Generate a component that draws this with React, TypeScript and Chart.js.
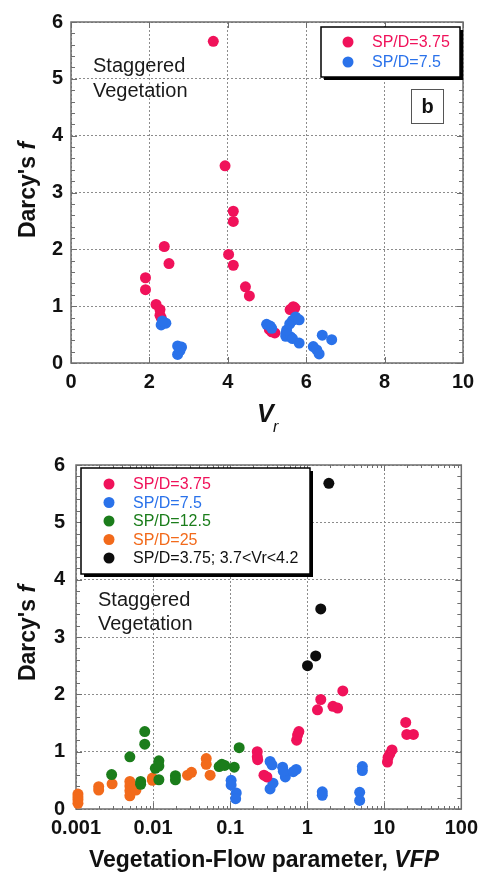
import React, { useEffect, useRef } from "react";
import { Chart, registerables } from "chart.js";

Chart.register(...registerables);

const FONT = "'Liberation Sans', Arial, Helvetica, sans-serif";
const PINK = "#f0125a";
const BLUE = "#2a72ea";
const GREEN = "#1b7d1b";
const ORANGE = "#f26a1b";
const BLACK = "#0d0d0d";
const FRAME = "#6e6e6e";
const GRID = "#8c8c8c";

// ---------- Panel b (top): Darcy's f vs Vr ----------
const vrTicks = [0, 2, 4, 6, 8, 10];
const fTicks = [0, 1, 2, 3, 4, 5, 6];

const vr375 = [3.63, 3.93, 4.14, 4.14, 4.02, 4.14, 4.45, 4.55, 1.9, 1.9, 2.38, 2.5, 2.17, 2.27, 2.27, 2.3, 5.06, 5.12, 5.2, 5.59, 5.67, 5.71];
const fTop375 = [5.66, 3.47, 2.67, 2.49, 1.91, 1.72, 1.34, 1.18, 1.5, 1.29, 2.05, 1.75, 1.03, 0.94, 0.84, 0.8, 0.59, 0.55, 0.53, 0.94, 0.99, 0.97];

const vr75 = [2.3, 2.35, 2.42, 2.33, 2.72, 2.72, 2.82, 2.78, 4.99, 5.08, 5.12, 5.48, 5.48, 5.6, 5.65, 5.5, 5.58, 5.65, 5.73, 5.82, 5.82, 6.18, 6.27, 6.33, 6.41, 6.65];
const fTop75 = [0.67, 0.72, 0.7, 0.74, 0.3, 0.15, 0.28, 0.22, 0.68, 0.65, 0.61, 0.52, 0.47, 0.46, 0.43, 0.58, 0.69, 0.75, 0.81, 0.76, 0.35, 0.29, 0.23, 0.16, 0.49, 0.41];

// ---------- Bottom panel: Darcy's f vs VFP ----------
const vfpTicks = [0.001, 0.01, 0.1, 1, 10, 100];
const vfpTickLabels = ["0.001", "0.01", "0.1", "1", "10", "100"];

const vfp375 = [0.225, 0.225, 0.228, 0.275, 0.3, 0.73, 0.75, 0.78, 1.36, 1.5, 2.16, 2.48, 2.9, 11.0, 11.2, 11.8, 12.6, 19.0, 19.6, 23.9];
const f375 = [1.0, 0.91, 0.86, 0.59, 0.56, 1.2, 1.29, 1.35, 1.73, 1.91, 1.79, 1.76, 2.06, 0.82, 0.9, 0.96, 1.03, 1.51, 1.3, 1.3];

const vfp75 = [0.103, 0.103, 0.12, 0.118, 0.33, 0.35, 0.33, 0.36, 0.48, 0.52, 0.49, 0.66, 0.72, 1.57, 1.57, 4.8, 4.8, 5.2, 5.2];
const f75 = [0.5, 0.42, 0.28, 0.18, 0.83, 0.77, 0.35, 0.45, 0.73, 0.56, 0.66, 0.65, 0.69, 0.3, 0.24, 0.29, 0.15, 0.74, 0.67];

const vfp125 = [0.0029, 0.005, 0.0078, 0.0078, 0.0069, 0.0069, 0.0107, 0.0119, 0.0119, 0.0119, 0.0195, 0.0195, 0.072, 0.078, 0.085, 0.113, 0.131];
const f125 = [0.6, 0.91, 1.35, 1.13, 0.48, 0.43, 0.71, 0.84, 0.75, 0.51, 0.58, 0.51, 0.74, 0.78, 0.76, 0.73, 1.07];

const vfp25 = [0.00106, 0.00106, 0.00106, 0.00106, 0.00197, 0.00197, 0.00294, 0.005, 0.005, 0.005, 0.005, 0.0057, 0.006, 0.0098, 0.0098, 0.028, 0.0315, 0.049, 0.049, 0.055];
const f25 = [0.26, 0.21, 0.16, 0.1, 0.39, 0.33, 0.44, 0.48, 0.4, 0.32, 0.23, 0.38, 0.33, 0.54, 0.5, 0.59, 0.64, 0.88, 0.78, 0.59];

const vfpBlack = [1.01, 1.29, 1.5, 1.91];
const fBlack = [2.5, 2.67, 3.49, 5.68];

const pts = (xs: number[], ys: number[]) => xs.map((x, i) => ({ x, y: ys[i] }));

function dataset(label: string, xs: number[], ys: number[], color: string, order: number, textColor?: string) {
  return {
    label,
    data: pts(xs, ys),
    backgroundColor: color,
    borderColor: color,
    borderWidth: 0,
    pointRadius: 5.5,
    pointHoverRadius: 5.5,
    order,
    clip: false as any,
    textColor: textColor || color,
  } as any;
}

function frameAndTicks(chart: any, xMajor: number[], xMinor: number[]) {
  const { ctx, chartArea: a } = chart;
  const xs = chart.scales.x;
  const ys = chart.scales.y;
  ctx.save();
  ctx.strokeStyle = FRAME;
  ctx.lineWidth = 1;
  ctx.beginPath();
  const seg = (x1: number, y1: number, x2: number, y2: number) => {
    ctx.moveTo(x1, y1);
    ctx.lineTo(x2, y2);
  };
  const n = Math.round((ys.max - ys.min) / 0.2);
  for (let k = 0; k <= n; k++) {
    const v = ys.min + k * 0.2;
    const p = Math.round(ys.getPixelForValue(v)) + 0.5;
    const len = k % 5 === 0 ? 6 : 4;
    seg(a.left, p, a.left + len, p);
    seg(a.right, p, a.right - len, p);
  }
  xMajor.forEach((v) => {
    const p = Math.round(xs.getPixelForValue(v)) + 0.5;
    seg(p, a.bottom, p, a.bottom - 6);
    seg(p, a.top, p, a.top + 6);
  });
  xMinor.forEach((v) => {
    const p = Math.round(xs.getPixelForValue(v)) + 0.5;
    seg(p, a.bottom, p, a.bottom - 3);
    seg(p, a.top, p, a.top + 3);
  });
  ctx.stroke();
  ctx.lineWidth = 1.5;
  ctx.strokeRect(a.left, a.top, a.right - a.left, a.bottom - a.top);
  ctx.restore();
}

function drawLegend(chart: any, x: number, y: number, w: number, h: number, mdx: number, tdx: number, row0: number, step: number) {
  const ctx = chart.ctx;
  ctx.save();
  ctx.fillStyle = "#000";
  ctx.fillRect(x + 3, y + 3, w, h);
  ctx.fillStyle = "#fff";
  ctx.fillRect(x, y, w, h);
  ctx.strokeStyle = "#000";
  ctx.lineWidth = 1.5;
  ctx.strokeRect(x, y, w, h);
  ctx.font = `16px ${FONT}`;
  ctx.textBaseline = "middle";
  ctx.textAlign = "left";
  chart.data.datasets.forEach((d: any, i: number) => {
    const cy = y + row0 + i * step;
    ctx.fillStyle = d.backgroundColor;
    ctx.beginPath();
    ctx.arc(x + mdx, cy, 5.5, 0, Math.PI * 2);
    ctx.fill();
    ctx.fillStyle = d.textColor;
    ctx.fillText(d.label, x + tdx, cy + 1);
  });
  ctx.restore();
}

function drawNote(ctx: CanvasRenderingContext2D, x: number, y1: number, y2: number) {
  ctx.save();
  ctx.font = `20px ${FONT}`;
  ctx.fillStyle = "#1a1a1a";
  ctx.textAlign = "left";
  ctx.textBaseline = "alphabetic";
  ctx.fillText("Staggered", x, y1);
  ctx.fillText("Vegetation", x, y2);
  ctx.restore();
}

function drawYTitle(ctx: CanvasRenderingContext2D, baseX: number, cy: number) {
  const parts = [
    { t: "Darcy's ", f: `bold 23px ${FONT}` },
    { t: "f", f: `italic bold 23px ${FONT}` },
  ];
  ctx.save();
  let total = 0;
  parts.forEach((p) => {
    ctx.font = p.f;
    total += ctx.measureText(p.t).width;
  });
  ctx.translate(baseX, cy);
  ctx.rotate(-Math.PI / 2);
  ctx.fillStyle = "#111";
  ctx.textBaseline = "alphabetic";
  ctx.textAlign = "left";
  let x = -total / 2;
  parts.forEach((p) => {
    ctx.font = p.f;
    ctx.fillText(p.t, x, 0);
    x += ctx.measureText(p.t).width;
  });
  ctx.restore();
}

const tickFont = { family: FONT, size: 20, weight: "bold" as const };

const topPlugin = {
  id: "topDeco",
  beforeDatasetsDraw(chart: any) {
    frameAndTicks(chart, vrTicks, []);
  },
  afterDraw(chart: any) {
    const ctx = chart.ctx as CanvasRenderingContext2D;
    drawNote(ctx, 93, 72, 97);
    drawLegend(chart, 321, 27, 139, 50, 27, 51, 15, 20);
    ctx.save();
    ctx.strokeStyle = "#555";
    ctx.lineWidth = 1;
    ctx.strokeRect(411.5, 89.5, 32, 34);
    ctx.font = `bold 20px ${FONT}`;
    ctx.fillStyle = "#111";
    ctx.textAlign = "center";
    ctx.textBaseline = "middle";
    ctx.fillText("b", 427.5, 107);
    ctx.restore();
    drawYTitle(ctx, 35, 190);
    ctx.save();
    ctx.fillStyle = "#111";
    ctx.textAlign = "left";
    ctx.textBaseline = "alphabetic";
    ctx.font = `italic bold 25px ${FONT}`;
    ctx.fillText("V", 257, 422);
    ctx.font = `italic 16px ${FONT}`;
    ctx.fillText("r", 273, 432);
    ctx.restore();
  },
};

const vfpMinor: number[] = [];
for (let d = -3; d <= 1; d++) {
  for (let k = 2; k <= 9; k++) vfpMinor.push(k * Math.pow(10, d));
}

const bottomPlugin = {
  id: "bottomDeco",
  beforeDatasetsDraw(chart: any) {
    frameAndTicks(chart, vfpTicks, vfpMinor);
  },
  afterDraw(chart: any) {
    const ctx = chart.ctx as CanvasRenderingContext2D;
    drawLegend(chart, 81, 31, 229, 106, 28, 52, 16, 18.5);
    drawNote(ctx, 98, 169, 193);
    drawYTitle(ctx, 35, 196);
    ctx.save();
    const parts = [
      { t: "Vegetation-Flow parameter, ", f: `bold 23px ${FONT}` },
      { t: "VFP", f: `italic bold 23px ${FONT}` },
    ];
    let total = 0;
    parts.forEach((p) => {
      ctx.font = p.f;
      total += ctx.measureText(p.t).width;
    });
    let x = 264 - total / 2;
    ctx.fillStyle = "#111";
    ctx.textAlign = "left";
    ctx.textBaseline = "alphabetic";
    parts.forEach((p) => {
      ctx.font = p.f;
      ctx.fillText(p.t, x, 430);
      x += ctx.measureText(p.t).width;
    });
    ctx.restore();
  },
};

const gridOpts = { color: GRID, lineWidth: 1, drawTicks: false, borderDash: [2, 2] } as any;
const borderOpts = { display: false, dash: [2, 2] } as any;

export default function App() {
  const topRef = useRef<HTMLCanvasElement>(null);
  const botRef = useRef<HTMLCanvasElement>(null);

  useEffect(() => {
    const c1 = new Chart(topRef.current as HTMLCanvasElement, {
      type: "scatter",
      data: {
        datasets: [
          dataset("SP/D=3.75", vr375, fTop375, PINK, 2),
          dataset("SP/D=7.5", vr75, fTop75, BLUE, 1),
        ],
      },
      options: {
        responsive: false,
        animation: false,
        devicePixelRatio: 1,
        events: [],
        layout: { padding: { left: 0, right: 22, top: 22, bottom: 0 } },
        plugins: { legend: { display: false }, tooltip: { enabled: false } },
        scales: {
          x: {
            type: "linear",
            min: 0,
            max: 10,
            ticks: { stepSize: 2, padding: 7, font: tickFont, color: "#111", maxRotation: 0, autoSkip: false },
            grid: gridOpts,
            border: borderOpts,
            afterFit: (s: any) => {
              s.height = 74;
            },
          },
          y: {
            type: "linear",
            min: 0,
            max: 6,
            ticks: { stepSize: 1, padding: 8, font: tickFont, color: "#111" },
            grid: gridOpts,
            border: borderOpts,
            afterFit: (s: any) => {
              s.width = 71;
            },
          },
        },
      } as any,
      plugins: [topPlugin],
    });

    const c2 = new Chart(botRef.current as HTMLCanvasElement, {
      type: "scatter",
      data: {
        datasets: [
          dataset("SP/D=3.75", vfp375, f375, PINK, 2),
          dataset("SP/D=7.5", vfp75, f75, BLUE, 3),
          dataset("SP/D=12.5", vfp125, f125, GREEN, 4),
          dataset("SP/D=25", vfp25, f25, ORANGE, 5),
          dataset("SP/D=3.75; 3.7<Vr<4.2", vfpBlack, fBlack, BLACK, 1, "#111"),
        ],
      },
      options: {
        responsive: false,
        animation: false,
        devicePixelRatio: 1,
        events: [],
        layout: { padding: { left: 0, right: 18, top: 28, bottom: 0 } },
        plugins: { legend: { display: false }, tooltip: { enabled: false } },
        scales: {
          x: {
            type: "logarithmic",
            min: 0.001,
            max: 100,
            afterBuildTicks: (s: any) => {
              s.ticks = vfpTicks.map((v) => ({ value: v, major: true }));
            },
            ticks: {
              padding: 7,
              font: tickFont,
              color: "#111",
              maxRotation: 0,
              autoSkip: false,
              callback: (_v: any, i: number) => vfpTickLabels[i],
            },
            grid: gridOpts,
            border: borderOpts,
            afterFit: (s: any) => {
              s.height = 65;
            },
          },
          y: {
            type: "linear",
            min: 0,
            max: 6,
            ticks: { stepSize: 1, padding: 11, font: tickFont, color: "#111" },
            grid: gridOpts,
            border: borderOpts,
            afterFit: (s: any) => {
              s.width = 76;
            },
          },
        },
      } as any,
      plugins: [bottomPlugin],
    });

    return () => {
      c1.destroy();
      c2.destroy();
    };
  }, []);

  return (
    <div style={{ position: "absolute", left: 0, top: 0, width: 485, height: 874, background: "#fff" }}>
      <canvas ref={topRef} width={485} height={437} style={{ position: "absolute", left: 0, top: 0, display: "block" }} />
      <canvas ref={botRef} width={485} height={437} style={{ position: "absolute", left: 0, top: 437, display: "block" }} />
    </div>
  );
}
